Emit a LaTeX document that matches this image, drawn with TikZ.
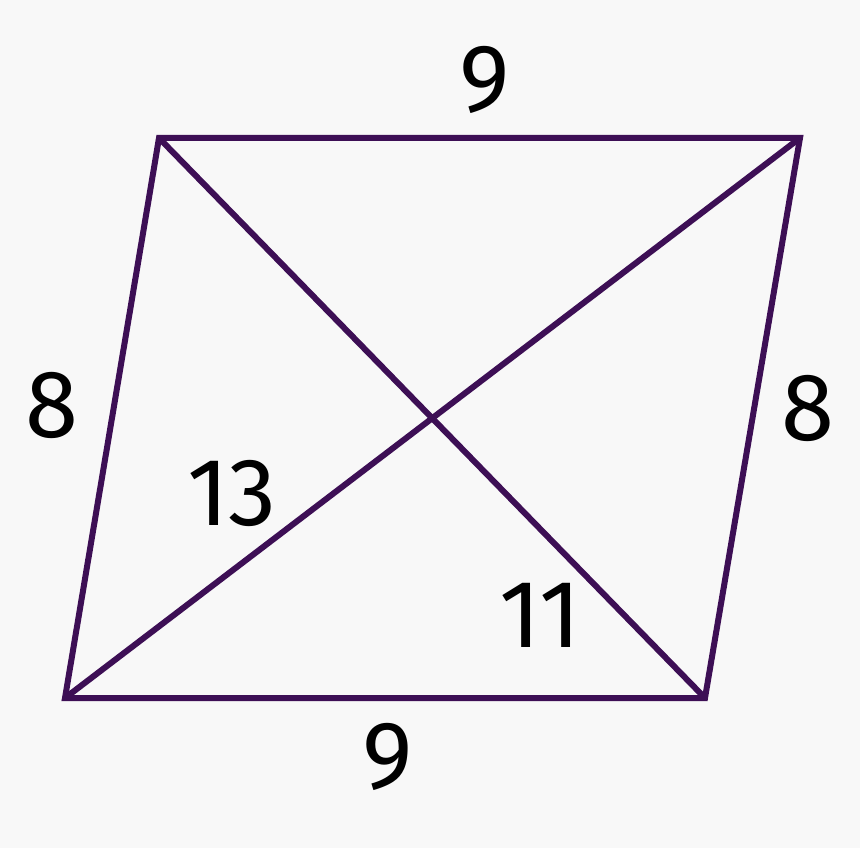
\documentclass[tikz,border=0pt]{standalone}
\usepackage{fontspec}
\setmainfont{Fira Sans}
\definecolor{bg}{HTML}{F8F8F8}
\definecolor{edge}{HTML}{3D0F55}
\tikzset{
  side/.style={draw=edge,line width=6pt,line join=miter},
  lbl/.style={font=\fontsize{96}{100}\selectfont,text=black,inner sep=0pt}
}
\begin{document}
\begin{tikzpicture}[x=1pt,y=-1pt]
\fill[bg] (0,0) rectangle (860,848);
\useasboundingbox (0,0) rectangle (860,848);
\coordinate (A) at (159,138);
\coordinate (B) at (800,138);
\coordinate (C) at (705,698);
\coordinate (D) at (65,698);
\draw[side] (A) -- (B) -- (C) -- (D) -- cycle;
\draw[side] (A) -- (C);
\draw[side] (B) -- (D);
\node[lbl] (t) at (485,80) {9};
\node[lbl] (b) at (388,757) {9};
\node[lbl] (l) at (52,405) {8};
\node[lbl] (r) at (808,408) {8};
\node[lbl] (d1) at (232,493) {13};
\node[lbl] (d2) at (540,615) {11};
\end{tikzpicture}
\end{document}
